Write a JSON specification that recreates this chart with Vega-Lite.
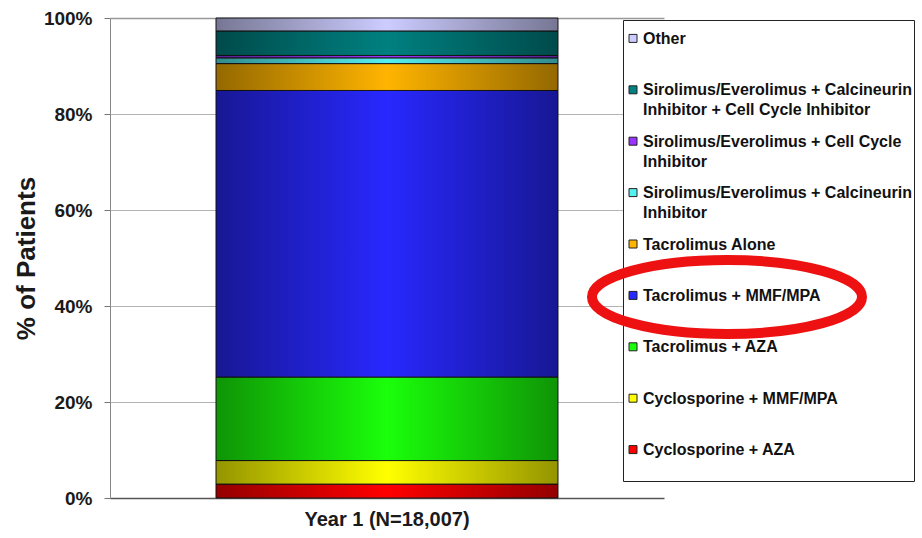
{
  "$schema": "https://vega.github.io/schema/vega-lite/v6.json",
  "width": 554,
  "height": 480,
  "autosize": {"type": "none"},
  "padding": {"left": 110, "top": 18, "right": 258, "bottom": 40},
  "background": "white",
  "config": {
    "view": {"stroke": null},
    "font": "Liberation Sans"
  },
  "datasets": {
    "regimens": [
      {"year": "Year 1 (N=18,007)", "regimen": "Cyclosporine + AZA", "rank": 1, "pct": 2.9},
      {"year": "Year 1 (N=18,007)", "regimen": "Cyclosporine + MMF/MPA", "rank": 2, "pct": 4.9},
      {"year": "Year 1 (N=18,007)", "regimen": "Tacrolimus + AZA", "rank": 3, "pct": 17.4},
      {"year": "Year 1 (N=18,007)", "regimen": "Tacrolimus + MMF/MPA", "rank": 4, "pct": 59.7},
      {"year": "Year 1 (N=18,007)", "regimen": "Tacrolimus Alone", "rank": 5, "pct": 5.6},
      {"year": "Year 1 (N=18,007)", "regimen": "Sirolimus/Everolimus + Calcineurin Inhibitor", "rank": 6, "pct": 1.2},
      {"year": "Year 1 (N=18,007)", "regimen": "Sirolimus/Everolimus + Cell Cycle Inhibitor", "rank": 7, "pct": 0.5},
      {"year": "Year 1 (N=18,007)", "regimen": "Sirolimus/Everolimus + Calcineurin Inhibitor + Cell Cycle Inhibitor", "rank": 8, "pct": 5.1},
      {"year": "Year 1 (N=18,007)", "regimen": "Other", "rank": 9, "pct": 2.7}
    ],
    "highlight": [
      {"note": "Tacrolimus + MMF/MPA"}
    ]
  },
  "layer": [
    {
      "data": {"name": "regimens"},
      "mark": {"type": "bar", "stroke": "#1a1a1a", "strokeWidth": 1},
      "encoding": {
        "x": {
          "field": "year", "type": "nominal",
          "scale": {"padding": 0.2366},
          "axis": {
            "title": null, "labelAngle": 0, "labelFontSize": 20, "labelFontWeight": "bold",
            "labelColor": "#1a1a1a", "labelPadding": 11, "ticks": false,
            "domainColor": "#555", "domainWidth": 1.5
          }
        },
        "y": {
          "field": "pct", "type": "quantitative", "stack": "zero",
          "scale": {"domain": [0, 100], "nice": false},
          "axis": {
            "title": "% of Patients", "titleFontSize": 26, "titleFontWeight": "bold",
            "titleColor": "#1a1a1a", "titlePadding": 4,
            "values": [0, 20, 40, 60, 80, 100],
            "labelExpr": "datum.value + '%'",
            "labelFontSize": 19, "labelFontWeight": "bold", "labelColor": "#1a1a1a",
            "labelPadding": 12, "tickSize": 6, "tickColor": "#777",
            "domainColor": "#888",
            "grid": true,
            "gridColor": {"condition": {"test": "datum.value == 100", "value": "#999"}, "value": "#666"},
            "gridDash": {"condition": {"test": "datum.value == 100", "value": []}, "value": [1, 1]},
            "gridWidth": {"condition": {"test": "datum.value == 100", "value": 1.5}, "value": 1}
          }
        },
        "order": {"field": "rank", "type": "quantitative"},
        "color": {
          "field": "regimen", "type": "nominal",
          "sort": [
            "Cyclosporine + AZA",
            "Cyclosporine + MMF/MPA",
            "Tacrolimus + AZA",
            "Tacrolimus + MMF/MPA",
            "Tacrolimus Alone",
            "Sirolimus/Everolimus + Calcineurin Inhibitor",
            "Sirolimus/Everolimus + Cell Cycle Inhibitor",
            "Sirolimus/Everolimus + Calcineurin Inhibitor + Cell Cycle Inhibitor",
            "Other"
          ],
          "scale": {
            "range": ["#ff0000", "#ffff00", "#1aff0a", "#2828ff", "#ffb400", "#55f0f0", "#9933ff", "#008080", "#ccccff"]
          },
          "legend": {
            "title": " ",
            "titleFontSize": 4,
            "titlePadding": 10,
            "orient": "none",
            "legendX": 513,
            "legendY": 2,
            "values": [
              "Other",
              "Sirolimus/Everolimus + Calcineurin Inhibitor + Cell Cycle Inhibitor",
              "Sirolimus/Everolimus + Cell Cycle Inhibitor",
              "Sirolimus/Everolimus + Calcineurin Inhibitor",
              "Tacrolimus Alone",
              "Tacrolimus + MMF/MPA",
              "Tacrolimus + AZA",
              "Cyclosporine + MMF/MPA",
              "Cyclosporine + AZA"
            ],
            "labelExpr": "datum.label == 'Sirolimus/Everolimus + Calcineurin Inhibitor + Cell Cycle Inhibitor' ? ['Sirolimus/Everolimus + Calcineurin', 'Inhibitor + Cell Cycle Inhibitor'] : datum.label == 'Sirolimus/Everolimus + Cell Cycle Inhibitor' ? ['Sirolimus/Everolimus + Cell Cycle', 'Inhibitor'] : datum.label == 'Sirolimus/Everolimus + Calcineurin Inhibitor' ? ['Sirolimus/Everolimus + Calcineurin', 'Inhibitor'] : datum.label == 'Cyclosporine + AZA' ? ['Cyclosporine + AZA', ' '] : datum.label",
            "labelFontSize": 16,
            "labelFontWeight": "bold",
            "labelColor": "#111",
            "labelBaseline": "alphabetic",
            "labelLimit": 400,
            "labelOffset": 2,
            "symbolType": "M-1,-2.4H1V-0.4H-1Z",
            "symbolSize": 64,
            "symbolStrokeColor": "#222",
            "symbolStrokeWidth": 1,
            "symbolOffset": 0,
            "gridAlign": "all",
            "rowPadding": 15.4,
            "padding": 2,
            "strokeColor": "#222",
            "fillColor": "white",
            "encode": {
              "labels": {"update": {"lineHeight": {"value": 20}}}
            }
          }
        }
      }
    },
    {
      "data": {"name": "regimens"},
      "mark": {
        "type": "bar",
        "color": {
          "gradient": "linear", "x1": 0, "x2": 1, "y1": 0, "y2": 0,
          "stops": [
            {"offset": 0, "color": "rgba(0,0,0,0.42)"},
            {"offset": 0.5, "color": "rgba(0,0,0,0)"},
            {"offset": 1, "color": "rgba(0,0,0,0.42)"}
          ]
        }
      },
      "encoding": {
        "x": {"field": "year", "type": "nominal"},
        "y": {"aggregate": "sum", "field": "pct", "type": "quantitative"}
      }
    },
    {
      "data": {"name": "highlight"},
      "mark": {"type": "point", "opacity": 0, "filled": false},
      "encoding": {
        "shape": {
          "field": "note", "type": "nominal",
          "scale": {"range": ["M-1,0A1,0.274,0,1,1,1,0A1,0.274,0,1,1,-1,0Z"]},
          "legend": {
            "title": null,
            "orient": "none",
            "legendX": 477,
            "legendY": 139,
            "labelExpr": "''",
            "symbolSize": 72900,
            "symbolStrokeWidth": 10,
            "symbolStrokeColor": "#ee1111",
            "symbolFillColor": "transparent",
            "symbolOpacity": 1,
            "padding": 0,
            "encode": {
              "symbols": {
                "update": {
                  "stroke": {"value": "#ee1111"},
                  "strokeWidth": {"value": 10},
                  "fill": {"value": "transparent"},
                  "opacity": {"value": 1}
                }
              }
            }
          }
        }
      }
    }
  ]
}
